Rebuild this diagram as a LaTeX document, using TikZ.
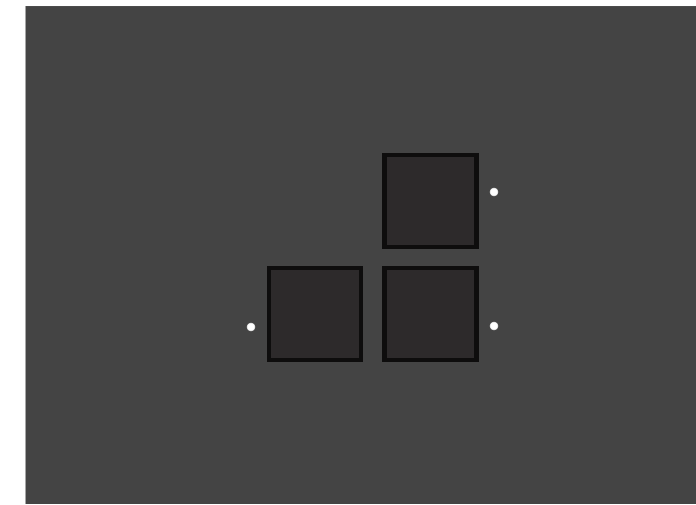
\documentclass[tikz,border=0pt]{standalone}
\usepackage{xcolor}
\usepackage{tikz}
\usetikzlibrary{positioning}

\definecolor{boardgray}{HTML}{444444}
\definecolor{tilefill}{HTML}{2D2A2B}
\definecolor{tileedge}{HTML}{0E0D0D}

\begin{document}
\begin{tikzpicture}[
  x=0.75pt, y=-0.75pt,
  tile/.style={rectangle, draw=tileedge, fill=tilefill, line width=3.6pt,
               minimum size=69pt, inner sep=0pt},
  spot/.style={circle, fill=white, draw=white!80!gray, line width=0.4pt,
               minimum size=6pt, inner sep=0pt}
]
\useasboundingbox (0,0) rectangle (696,504);

% --- Board ---
\fill[white] (0,0) rectangle (696,504);
\fill[boardgray] (25,6) rectangle (696,504);
\draw[black!70, line width=1.2pt] (25,6.5) -- (696,6.5);
\draw[gray!70, line width=0.6pt] (25.5,6) -- (25.5,504);

% --- Nodes ---
\node[tile] (top)   at (430.5,201) {};
\node[tile] (left)  at (315,314)   {};
\node[tile] (right) at (430.5,314) {};

% --- Spots ---
\node[spot] (topspot)   at (494,192) {};
\node[spot] (leftspot)  at (251,327) {};
\node[spot] (rightspot) at (494,326) {};

\end{tikzpicture}
\end{document}
